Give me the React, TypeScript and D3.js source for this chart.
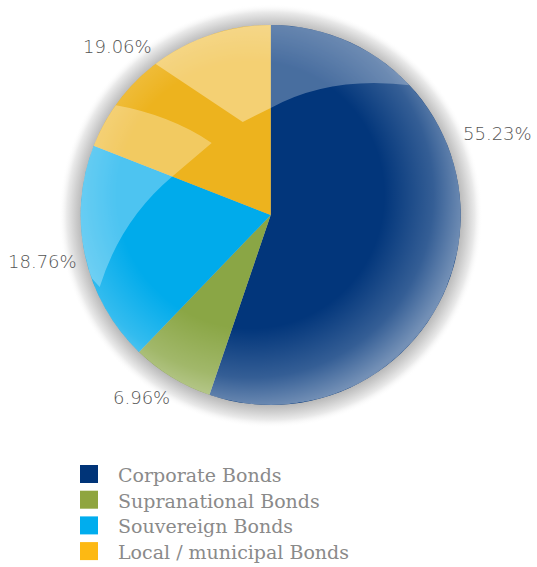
import React from "react";
import * as d3 from "d3";

const categories = ["Corporate Bonds", "Supranational Bonds", "Souvereign Bonds", "Local / municipal Bonds"];
const values = [55.23, 6.96, 18.76, 19.06];
const valueLabels = ["55.23%", "6.96%", "18.76%", "19.06%"];
const sliceColors = ["#02367b", "#8aa645", "#00abeb", "#edb31e"];
const legendColors = ["#003478", "#8fa53f", "#00adee", "#fdb913"];

// layout for labels (x, baseline y)
const labelPos: [number, number][] = [
  [463, 140],
  [113, 404],
  [8, 268],
  [83, 53],
];

const W = 537;
const H = 567;
const cx = 270.7;
const cy = 215;
const R = 190;

function pt(angleDeg: number, r: number): [number, number] {
  const a = (angleDeg * Math.PI) / 180;
  return [cx + r * Math.sin(a), cy - r * Math.cos(a)];
}

export default function App() {
  const pie = d3.pie<number>().sort(null).value((d) => d);
  const arcs = pie(values);
  const arc = d3.arc<d3.PieArcDatum<number>>().innerRadius(0).outerRadius(R);

  // highlight shapes (decorative gloss), relative to center
  const a1 = pt(47.6, R + 2);
  const hlA = `M${cx},${cy - R - 2} A${R + 2},${R + 2} 0 0 1 ${a1[0]},${a1[1]} Q${cx + 60},${cy - 140} ${cx},${cy - 107} Z`;
  const b1 = pt(-37.5, R + 2);
  const hlB = `M${cx},${cy - R - 2} L${cx},${cy - 107} L${cx - 28},${cy - 93} L${b1[0]},${b1[1]} A${R + 2},${R + 2} 0 0 1 ${cx},${cy - R - 2} Z`;
  const c1 = pt(-55, R + 2);
  const c2 = pt(-108, R + 2);
  const hlC = `M${c1[0]},${c1[1]} Q${cx - 100},${cy - 100} ${cx - 59},${cy - 72} L${cx - 99},${cy - 38} Q${cx - 150},${cy + 5} ${cx - 171},${cy + 72} L${c2[0]},${c2[1]} A${R + 2},${R + 2} 0 0 1 ${c1[0]},${c1[1]} Z`;

  return (
    <svg width={W} height={H} style={{ position: "absolute", left: 0, top: 0 }}>
      <defs>
        <radialGradient id="ring" cx={cx} cy={cy + 1} r={R + 22} gradientUnits="userSpaceOnUse">
          <stop offset={`${((R - 2) / (R + 22)) * 100}%`} stopColor="#b5b5b5" />
          <stop offset={`${((R + 6) / (R + 22)) * 100}%`} stopColor="#cfcfcf" />
          <stop offset={`${((R + 14) / (R + 22)) * 100}%`} stopColor="#eaeaea" />
          <stop offset="100%" stopColor="#ffffff" stopOpacity="0" />
        </radialGradient>
        <radialGradient id="rim" cx={cx - 20} cy={cy - 20} r={R + 25} gradientUnits="userSpaceOnUse">
          <stop offset="0%" stopColor="#ffffff" stopOpacity="0" />
          <stop offset="62%" stopColor="#ffffff" stopOpacity="0" />
          <stop offset="85%" stopColor="#ffffff" stopOpacity="0.2" />
          <stop offset="100%" stopColor="#ffffff" stopOpacity="0.45" />
        </radialGradient>
        <clipPath id="pieClip">
          <circle cx={cx} cy={cy} r={R} />
        </clipPath>
      </defs>
      <circle cx={cx} cy={cy + 1} r={R + 22} fill="url(#ring)" />
      <g transform={`translate(${cx},${cy})`}>
        {arcs.map((a, i) => (
          <path key={i} d={arc(a) || ""} fill={sliceColors[i]} />
        ))}
      </g>
      <g clipPath="url(#pieClip)">
        <circle cx={cx} cy={cy} r={R} fill="url(#rim)" />
        <path d={hlA} fill="#ffffff" opacity={0.28} />
        <path d={hlB} fill="#ffffff" opacity={0.38} />
        <path d={hlC} fill="#ffffff" opacity={0.3} />
      </g>
      {valueLabels.map((t, i) => (
        <text
          key={i}
          x={labelPos[i][0]}
          y={labelPos[i][1]}
          fontFamily="'DejaVu Sans'"
          fontWeight={200}
          fontSize={18}
          fill="#555555"
        >
          {t}
        </text>
      ))}
      {categories.map((c, i) => (
        <g key={c} transform={`translate(80,${465 + i * 25.7})`}>
          <rect width={18} height={18} fill={legendColors[i]} />
          <text x={38} y={17} fontFamily="'DejaVu Serif'" fontSize={19} fill="#8a8a8a">
            {c}
          </text>
        </g>
      ))}
    </svg>
  );
}
